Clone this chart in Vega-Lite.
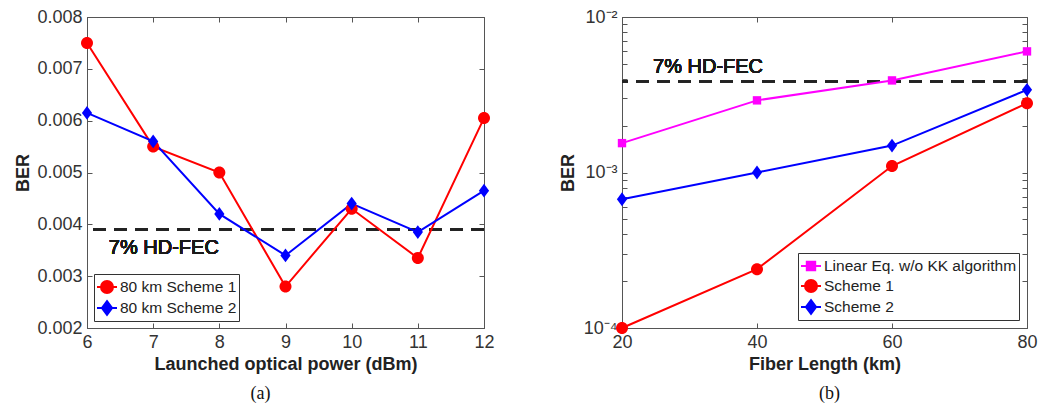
{
  "$schema": "https://vega.github.io/schema/vega-lite/v6.json",
  "background": "white",
  "padding": {"left": 14, "top": 7, "right": 0, "bottom": 0},
  "spacing": 63,
  "resolve": {"scale": {"color": "independent"}},
  "config": {
    "view": {"stroke": "#555", "strokeWidth": 1},
    "font": "Liberation Sans",
    "axis": {
      "grid": false,
      "domainColor": "#555",
      "tickColor": "#555",
      "tickSize": -5,
      "labelPadding": 10,
      "labelFlush": false,
      "labelColor": "#333",
      "labelFont": "Liberation Sans",
      "labelFontSize": 18,
      "labelOverlap": false,
      "titleFont": "Liberation Sans",
      "titleFontSize": 18,
      "titleFontWeight": "bold",
      "titleColor": "#222"
    },
    "legend": {
      "title": null,
      "strokeColor": "#333",
      "fillColor": "white",
      "padding": 2,
      "symbolSize": 400,
      "rowPadding": 0,
      "labelFont": "Liberation Sans",
      "labelFontSize": 15.5,
      "labelColor": "#222",
      "labelOffset": 2,
      "labelLimit": 400
    },
    "title": {"font": "Liberation Serif", "fontSize": 18, "fontWeight": "normal", "color": "#111"}
  },
  "datasets": {
    "power": [
      {"power": 6, "ber": 0.0075, "scheme": "80 km Scheme 1"},
      {"power": 7, "ber": 0.0055, "scheme": "80 km Scheme 1"},
      {"power": 8, "ber": 0.0050, "scheme": "80 km Scheme 1"},
      {"power": 9, "ber": 0.0028, "scheme": "80 km Scheme 1"},
      {"power": 10, "ber": 0.0043, "scheme": "80 km Scheme 1"},
      {"power": 11, "ber": 0.00335, "scheme": "80 km Scheme 1"},
      {"power": 12, "ber": 0.00605, "scheme": "80 km Scheme 1"},
      {"power": 6, "ber": 0.00615, "scheme": "80 km Scheme 2"},
      {"power": 7, "ber": 0.0056, "scheme": "80 km Scheme 2"},
      {"power": 8, "ber": 0.0042, "scheme": "80 km Scheme 2"},
      {"power": 9, "ber": 0.0034, "scheme": "80 km Scheme 2"},
      {"power": 10, "ber": 0.0044, "scheme": "80 km Scheme 2"},
      {"power": 11, "ber": 0.00385, "scheme": "80 km Scheme 2"},
      {"power": 12, "ber": 0.00465, "scheme": "80 km Scheme 2"}
    ],
    "length": [
      {"km": 20, "ber": 0.001545, "scheme": "Linear Eq. w/o KK algorithm"},
      {"km": 40, "ber": 0.00291, "scheme": "Linear Eq. w/o KK algorithm"},
      {"km": 60, "ber": 0.00391, "scheme": "Linear Eq. w/o KK algorithm"},
      {"km": 80, "ber": 0.00601, "scheme": "Linear Eq. w/o KK algorithm"},
      {"km": 20, "ber": 0.0001, "scheme": "Scheme 1"},
      {"km": 40, "ber": 0.000239, "scheme": "Scheme 1"},
      {"km": 60, "ber": 0.0011, "scheme": "Scheme 1"},
      {"km": 80, "ber": 0.00279, "scheme": "Scheme 1"},
      {"km": 20, "ber": 0.000673, "scheme": "Scheme 2"},
      {"km": 40, "ber": 0.001, "scheme": "Scheme 2"},
      {"km": 60, "ber": 0.00149, "scheme": "Scheme 2"},
      {"km": 80, "ber": 0.0034, "scheme": "Scheme 2"}
    ]
  },
  "hconcat": [
    {
      "width": 397,
      "height": 311,
      "title": {"text": "(a)", "orient": "bottom", "anchor": "middle", "frame": "group", "dx": -25, "offset": 12},
      "data": {"name": "power"},
      "resolve": {"axis": {"x": "independent", "y": "independent"}},
      "layer": [
        {
          "mark": {"type": "rule", "color": "#222", "strokeWidth": 1.6, "strokeDash": [13, 8]},
          "encoding": {"y": {"datum": 0.0039, "type": "quantitative", "axis": null, "scale": {"domain": [0.002, 0.008], "zero": false, "nice": false}}}
        },
        {
          "mark": {"type": "line", "strokeWidth": 2},
          "encoding": {
            "x": {"field": "power", "type": "quantitative", "scale": {"domain": [6, 12], "zero": false, "nice": false},
                  "axis": {"title": "Launched optical power (dBm)", "values": [6, 7, 8, 9, 10, 11, 12], "titlePadding": 4}},
            "y": {"field": "ber", "type": "quantitative", "scale": {"domain": [0.002, 0.008], "zero": false, "nice": false},
                  "axis": {"title": "BER", "values": [0.002, 0.003, 0.004, 0.005, 0.006, 0.007, 0.008], "format": ".3f", "titlePadding": 4}},
            "color": {"field": "scheme", "type": "nominal", "scale": {"domain": ["80 km Scheme 1", "80 km Scheme 2"], "range": ["#ff0000", "#0000ff"]},
              "legend": {
                "orient": "bottom-left", "offset": 7,
                "encode": {"symbols": {"update": {
                  "shape": {"signal": "datum.value === '80 km Scheme 1' ? 'M-1,0H1M0.6,0A0.6,0.6,0,1,1,-0.6,0A0.6,0.6,0,1,1,0.6,0Z' : 'M-1,0H1M0,-0.69L0.51,0L0,0.69L-0.51,0Z'"},
                  "fill": {"signal": "datum.value === '80 km Scheme 1' ? '#ff0000' : '#0000ff'"},
                  "stroke": {"signal": "datum.value === '80 km Scheme 1' ? '#ff0000' : '#0000ff'"},
                  "strokeWidth": {"value": 2},
                  "opacity": {"value": 1}
                }}}
              }}
          }
        },
        {
          "transform": [{"filter": "datum.scheme === '80 km Scheme 1'"}],
          "mark": {"type": "point", "filled": true, "opacity": 1, "size": 144, "shape": "M1,0A1,1,0,1,1,-1,0A1,1,0,1,1,1,0Z"},
          "encoding": {
            "x": {"field": "power", "type": "quantitative", "axis": null, "scale": {"domain": [6, 12], "zero": false, "nice": false}},
            "y": {"field": "ber", "type": "quantitative", "axis": null, "scale": {"domain": [0.002, 0.008], "zero": false, "nice": false}},
            "color": {"field": "scheme", "type": "nominal", "scale": {"domain": ["80 km Scheme 1", "80 km Scheme 2"], "range": ["#ff0000", "#0000ff"]}}
          }
        },
        {
          "transform": [{"filter": "datum.scheme === '80 km Scheme 2'"}],
          "mark": {"type": "point", "filled": true, "opacity": 1, "size": 144, "shape": "M0,-1.15L0.85,0L0,1.15L-0.85,0Z"},
          "encoding": {
            "x": {"field": "power", "type": "quantitative", "axis": null, "scale": {"domain": [6, 12], "zero": false, "nice": false}},
            "y": {"field": "ber", "type": "quantitative", "axis": null, "scale": {"domain": [0.002, 0.008], "zero": false, "nice": false}},
            "color": {"field": "scheme", "type": "nominal", "scale": {"domain": ["80 km Scheme 1", "80 km Scheme 2"], "range": ["#ff0000", "#0000ff"]}}
          }
        },
        {
          "mark": {"type": "point", "opacity": 0},
          "encoding": {
            "x": {"field": "power", "type": "quantitative", "scale": {"domain": [6, 12], "zero": false, "nice": false},
                  "axis": {"orient": "top", "values": [6, 7, 8, 9, 10, 11, 12], "labels": false, "title": null, "domain": false}},
            "y": {"field": "ber", "type": "quantitative", "scale": {"domain": [0.002, 0.008], "zero": false, "nice": false},
                  "axis": {"orient": "right", "values": [0.002, 0.003, 0.004, 0.005, 0.006, 0.007, 0.008], "labels": false, "title": null, "domain": false}}
          }
        },
        {
          "mark": {"type": "text", "align": "left", "baseline": "middle", "fontSize": 20, "fontWeight": "normal", "font": "Liberation Sans", "color": "#1a1a1a"},
          "encoding": {
            "x": {"datum": 6.33, "type": "quantitative", "axis": null, "scale": {"domain": [6, 12], "zero": false, "nice": false}},
            "y": {"datum": 0.00355, "type": "quantitative", "axis": null, "scale": {"domain": [0.002, 0.008], "zero": false, "nice": false}},
            "text": {"value": "7% HD-FEC"}
          }
        }
      ]
    },
    {
      "width": 405,
      "height": 311,
      "title": {"text": "(b)", "orient": "bottom", "anchor": "middle", "frame": "group", "dx": 5, "offset": 12},
      "data": {"name": "length"},
      "resolve": {"axis": {"x": "independent", "y": "independent"}},
      "layer": [
        {
          "mark": {"type": "rule", "color": "#222", "strokeWidth": 1.6, "strokeDash": [13, 8]},
          "encoding": {"y": {"datum": 0.00385, "type": "quantitative", "axis": null, "scale": {"type": "log", "domain": [0.0001, 0.01], "nice": false}}}
        },
        {
          "mark": {"type": "line", "strokeWidth": 2},
          "encoding": {
            "x": {"field": "km", "type": "quantitative", "scale": {"domain": [20, 80], "zero": false, "nice": false},
                  "axis": {"title": "Fiber Length (km)", "values": [20, 40, 60, 80], "titlePadding": 4}},
            "y": {"field": "ber", "type": "quantitative", "scale": {"type": "log", "domain": [0.0001, 0.01], "nice": false},
                  "axis": {"title": "BER", "titlePadding": 6,
                    "values": [0.0001, 0.0002, 0.0003, 0.0004, 0.0005, 0.0006, 0.0007, 0.0008, 0.0009, 0.001, 0.002, 0.003, 0.004, 0.005, 0.006, 0.007, 0.008, 0.009, 0.01],
                    "labelExpr": "datum.value === 0.01 ? '10⁻²' : datum.value === 0.001 ? '10⁻³' : datum.value === 0.0001 ? '10⁻⁴' : ''"}},
            "color": {"field": "scheme", "type": "nominal", "scale": {"domain": ["Linear Eq. w/o KK algorithm", "Scheme 1", "Scheme 2"], "range": ["#ff00ff", "#ff0000", "#0000ff"]},
              "legend": {
                "orient": "bottom-right", "offset": 8,
                "encode": {"symbols": {"update": {
                  "shape": {"signal": "datum.value === 'Scheme 1' ? 'M-1,0H1M0.6,0A0.6,0.6,0,1,1,-0.6,0A0.6,0.6,0,1,1,0.6,0Z' : datum.value === 'Scheme 2' ? 'M-1,0H1M0,-0.69L0.51,0L0,0.69L-0.51,0Z' : 'M-1,0H1M-0.42,-0.42H0.42V0.42H-0.42Z'"},
                  "fill": {"signal": "datum.value === 'Scheme 1' ? '#ff0000' : datum.value === 'Scheme 2' ? '#0000ff' : '#ff00ff'"},
                  "stroke": {"signal": "datum.value === 'Scheme 1' ? '#ff0000' : datum.value === 'Scheme 2' ? '#0000ff' : '#ff00ff'"},
                  "strokeWidth": {"value": 2},
                  "opacity": {"value": 1}
                }}}
              }}
          }
        },
        {
          "transform": [{"filter": "datum.scheme === 'Linear Eq. w/o KK algorithm'"}],
          "mark": {"type": "point", "filled": true, "opacity": 1, "size": 144, "shape": "M-0.7,-0.7H0.7V0.7H-0.7Z"},
          "encoding": {
            "x": {"field": "km", "type": "quantitative", "axis": null, "scale": {"domain": [20, 80], "zero": false, "nice": false}},
            "y": {"field": "ber", "type": "quantitative", "axis": null, "scale": {"type": "log", "domain": [0.0001, 0.01], "nice": false}},
            "color": {"field": "scheme", "type": "nominal", "scale": {"domain": ["Linear Eq. w/o KK algorithm", "Scheme 1", "Scheme 2"], "range": ["#ff00ff", "#ff0000", "#0000ff"]}}
          }
        },
        {
          "transform": [{"filter": "datum.scheme === 'Scheme 1'"}],
          "mark": {"type": "point", "filled": true, "opacity": 1, "size": 144, "shape": "M1,0A1,1,0,1,1,-1,0A1,1,0,1,1,1,0Z"},
          "encoding": {
            "x": {"field": "km", "type": "quantitative", "axis": null, "scale": {"domain": [20, 80], "zero": false, "nice": false}},
            "y": {"field": "ber", "type": "quantitative", "axis": null, "scale": {"type": "log", "domain": [0.0001, 0.01], "nice": false}},
            "color": {"field": "scheme", "type": "nominal", "scale": {"domain": ["Linear Eq. w/o KK algorithm", "Scheme 1", "Scheme 2"], "range": ["#ff00ff", "#ff0000", "#0000ff"]}}
          }
        },
        {
          "transform": [{"filter": "datum.scheme === 'Scheme 2'"}],
          "mark": {"type": "point", "filled": true, "opacity": 1, "size": 144, "shape": "M0,-1.15L0.85,0L0,1.15L-0.85,0Z"},
          "encoding": {
            "x": {"field": "km", "type": "quantitative", "axis": null, "scale": {"domain": [20, 80], "zero": false, "nice": false}},
            "y": {"field": "ber", "type": "quantitative", "axis": null, "scale": {"type": "log", "domain": [0.0001, 0.01], "nice": false}},
            "color": {"field": "scheme", "type": "nominal", "scale": {"domain": ["Linear Eq. w/o KK algorithm", "Scheme 1", "Scheme 2"], "range": ["#ff00ff", "#ff0000", "#0000ff"]}}
          }
        },
        {
          "mark": {"type": "point", "opacity": 0},
          "encoding": {
            "x": {"field": "km", "type": "quantitative", "scale": {"domain": [20, 80], "zero": false, "nice": false},
                  "axis": {"orient": "top", "values": [20, 40, 60, 80], "labels": false, "title": null, "domain": false}},
            "y": {"field": "ber", "type": "quantitative", "scale": {"type": "log", "domain": [0.0001, 0.01], "nice": false},
                  "axis": {"orient": "right", "labels": false, "title": null, "domain": false,
                    "values": [0.0001, 0.0002, 0.0003, 0.0004, 0.0005, 0.0006, 0.0007, 0.0008, 0.0009, 0.001, 0.002, 0.003, 0.004, 0.005, 0.006, 0.007, 0.008, 0.009, 0.01]}}
          }
        },
        {
          "mark": {"type": "text", "align": "left", "baseline": "middle", "fontSize": 20, "fontWeight": "normal", "font": "Liberation Sans", "color": "#1a1a1a"},
          "encoding": {
            "x": {"datum": 24.6, "type": "quantitative", "axis": null, "scale": {"domain": [20, 80], "zero": false, "nice": false}},
            "y": {"datum": 0.00477, "type": "quantitative", "axis": null, "scale": {"type": "log", "domain": [0.0001, 0.01], "nice": false}},
            "text": {"value": "7% HD-FEC"}
          }
        }
      ]
    }
  ]
}
